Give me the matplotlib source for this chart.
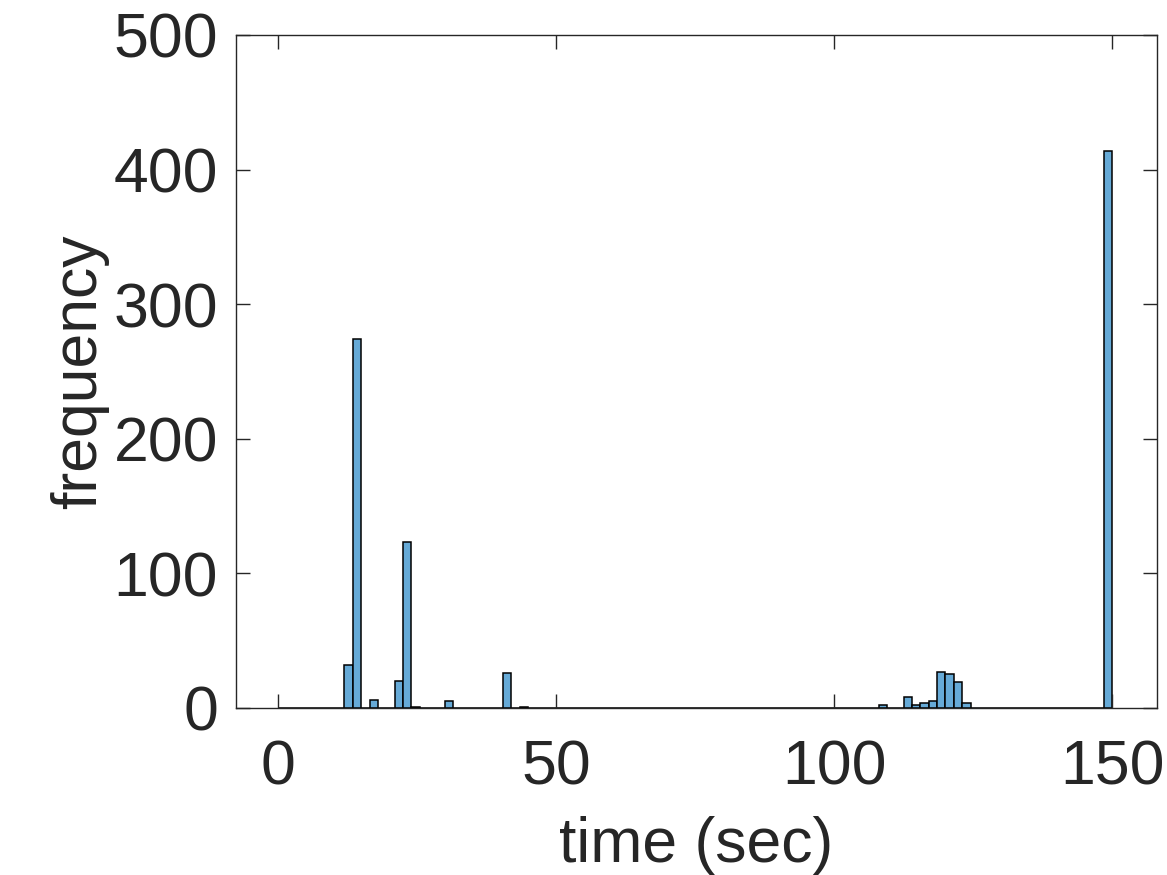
import numpy as np
import matplotlib.pyplot as plt

plt.rcParams['font.family'] = ['Liberation Sans', 'DejaVu Sans']

# histogram: bins of 1.5 sec from 0 to 150, only non-empty bins listed
bin_width = 1.5
bin_edges = np.arange(0, 150 + bin_width, bin_width)
bin_starts = [12, 13.5, 16.5, 21, 22.5, 24, 30, 40.5, 43.5,
              108, 112.5, 114, 115.5, 117, 118.5, 120, 121.5, 123, 148.5]
bin_counts = [32, 274, 6, 20, 123, 1, 5, 26, 1,
              2, 8, 2, 4, 5, 27, 25, 19, 4, 414]

x_ticks = [0, 50, 100, 150]
y_ticks = [0, 100, 200, 300, 400, 500]

txt = '#262626'
fs = 45

fig = plt.figure(figsize=(11.67, 8.75), dpi=100)
ax = fig.add_axes([0.2022, 0.1909, 0.7892, 0.7691])

centers = np.array(bin_starts) + bin_width / 2
ax.hist(centers, bins=bin_edges, weights=bin_counts,
        facecolor='#66AAD7', edgecolor='black', linewidth=1.1)

ax.set_xlim(-7.5, 158)
ax.set_ylim(0, 500)
ax.set_xticks(x_ticks)
ax.set_yticks(y_ticks)

for s in ax.spines.values():
    s.set_color(txt)
    s.set_linewidth(1.0)

ax.tick_params(direction='in', length=10, width=1.0, colors=txt,
               labelsize=fs, top=True, right=True)
ax.tick_params(axis='x', pad=22)
ax.tick_params(axis='y', pad=13)
ax.set_xlabel('time (sec)', fontsize=fs, color=txt, labelpad=13)
ax.set_ylabel('frequency', fontsize=fs, color=txt, labelpad=3)

fig.savefig('out.png', dpi=100)
